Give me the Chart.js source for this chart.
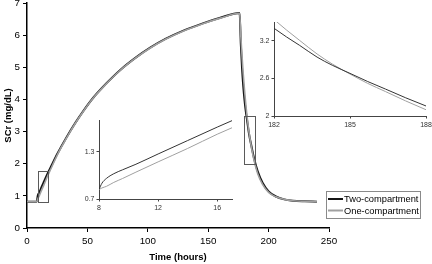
<!DOCTYPE html>
<html>
<head>
<meta charset="utf-8">
<script src="https://cdn.jsdelivr.net/npm/chart.js@4.4.0/dist/chart.umd.min.js"></script>
<style>
body { margin: 0; background: #fff; }
#wrap { position: relative; width: 432px; height: 264px; }
canvas { position: absolute; }
</style>
</head>
<body>
<div id="wrap">
  <canvas id="main" width="432" height="264" style="left:0;top:0"></canvas>
  <canvas id="insetA" width="160" height="100" style="left:80px;top:115px"></canvas>
  <canvas id="insetB" width="182" height="122" style="left:250px;top:12px"></canvas>
</div>
<script>
// series labels
var seriesNames = ['Two-compartment', 'One-compartment'];

// main plot: time (hours) and SCr (mg/dL)
var timeMain = [0, 8, 9, 10, 12, 14, 17, 20, 25, 33, 40, 47, 55, 66, 77, 90, 102, 115, 130, 145, 160, 176,
                177, 178, 179, 180, 181, 182, 183, 184, 185, 186, 188, 191, 195, 200, 206, 213, 220, 230, 240];
var twoComp = [0.82, 0.82, 1.02, 1.09, 1.27, 1.44, 1.69, 1.92, 2.30, 2.84, 3.27, 3.66, 4.06, 4.51, 4.91, 5.30, 5.61, 5.89, 6.15, 6.36, 6.54, 6.69,
               5.72, 4.98, 4.42, 4.00, 3.67, 3.40, 3.13, 2.88, 2.69, 2.51, 2.16, 1.76, 1.41, 1.14, 0.98, 0.89, 0.85, 0.83, 0.82];
var oneComp = [0.82, 0.82, 0.91, 0.99, 1.17, 1.34, 1.61, 1.86, 2.27, 2.82, 3.26, 3.65, 4.05, 4.50, 4.90, 5.29, 5.60, 5.88, 6.14, 6.35, 6.53, 6.68,
               5.97, 5.35, 4.80, 4.32, 3.90, 3.53, 3.21, 2.93, 2.69, 2.47, 2.10, 1.69, 1.36, 1.11, 0.97, 0.89, 0.85, 0.83, 0.82];
var xTicksMain = [0, 50, 100, 150, 200, 250];
var yTicksMain = [0, 1, 2, 3, 4, 5, 6, 7];

// zoomed windows marked on the main plot [xmin, xmax, ymin, ymax]
var zoomBoxA = [9.3, 17.2, 0.82, 1.78];
var zoomBoxB = [180, 189, 2, 3.5];

// inset A (start of infusion)
var timeA = [8, 8.2, 8.5, 9, 9.6, 10.5, 12, 14, 16, 17.1];
var twoA = [0.82, 0.90, 0.96, 1.02, 1.07, 1.14, 1.27, 1.44, 1.61, 1.70];
var oneA = [0.82, 0.84, 0.86, 0.91, 0.96, 1.04, 1.17, 1.34, 1.52, 1.61];
var xTicksA = [8, 12, 16];
var yTicksA = [0.7, 1.3];

// inset B (after infusion stop)
var timeB = [182, 182.5, 183, 183.7, 184.3, 185, 185.7, 186.4, 187.2, 188];
var twoB = [3.40, 3.26, 3.13, 2.94, 2.81, 2.68, 2.55, 2.43, 2.29, 2.16];
var oneB = [3.54, 3.37, 3.21, 2.99, 2.83, 2.67, 2.52, 2.39, 2.24, 2.10];
var xTicksB = [182, 185, 188];
var yTicksB = [2, 2.6, 3.2];

var FONT = "'Liberation Sans', Arial, Helvetica, sans-serif";
var DARK = '#151515';
var GREY = '#a0a0a0';

function pts(xs, ys) {
    return xs.map(function(x, i) { return {x: x, y: ys[i]}; });
}

function fixedTicks(list) {
    return function(scale) {
        scale.ticks = list.map(function(v) { return {value: v}; });
    };
}

// draws the rectangles that mark the zoomed windows
var boxPlugin = {
    id: 'zoomBoxes',
    afterDatasetsDraw: function(chart) {
        var c = chart.ctx, xs = chart.scales.x, ys = chart.scales.y;
        c.save();
        c.strokeStyle = '#5a5a5a';
        c.lineWidth = 1;
        [zoomBoxA, zoomBoxB].forEach(function(b) {
            var x1 = xs.getPixelForValue(b[0]), x2 = xs.getPixelForValue(b[1]);
            var y1 = ys.getPixelForValue(b[3]), y2 = ys.getPixelForValue(b[2]);
            c.strokeRect(Math.round(x1) + 0.5, Math.round(y1) + 0.5, Math.round(x2 - x1), Math.round(y2 - y1));
        });
        c.restore();
    }
};

// boxed legend in the lower right
var legendPlugin = {
    id: 'boxLegend',
    afterDraw: function(chart) {
        var c = chart.ctx;
        var ds = chart.data.datasets;
        c.save();
        c.fillStyle = '#fff';
        c.fillRect(326, 191, 95, 28);
        c.strokeStyle = '#8a8a8a';
        c.lineWidth = 1;
        c.strokeRect(326.5, 191.5, 94, 27);
        c.font = '9.3px ' + FONT;
        c.textBaseline = 'middle';
        ds.forEach(function(d, i) {
            var y = 199 + i * 11.5;
            c.strokeStyle = d.borderColor;
            c.lineWidth = 2;
            c.beginPath();
            c.moveTo(328, y);
            c.lineTo(343, y);
            c.stroke();
            c.fillStyle = '#000';
            c.fillText(d.label, 344, y + 0.5);
        });
        c.restore();
    }
};

new Chart(document.getElementById('main'), {
    type: 'line',
    data: {
        datasets: [
            {label: seriesNames[0], data: pts(timeMain, twoComp), borderColor: DARK, borderWidth: 2, order: 2},
            {label: seriesNames[1], data: pts(timeMain, oneComp), borderColor: GREY, borderWidth: 1.6, order: 1}
        ]
    },
    options: {
        responsive: false,
        animation: false,
        devicePixelRatio: 1,
        elements: {point: {radius: 0}, line: {cubicInterpolationMode: 'monotone', fill: false}},
        layout: {padding: {left: 0, top: 3, right: 103, bottom: 0}},
        plugins: {legend: {display: false}, tooltip: {enabled: false}},
        scales: {
            x: {
                type: 'linear', min: 0, max: 250,
                afterBuildTicks: fixedTicks(xTicksMain),
                afterFit: function(s) { s.height = 36; s.paddingLeft = 0; s.paddingRight = 0; },
                border: {color: '#000', width: 1.5},
                grid: {drawOnChartArea: false, drawTicks: true, tickLength: 4, color: '#000'},
                ticks: {color: '#000', padding: 3, maxRotation: 0, font: {family: FONT, size: 9.8}},
                title: {display: true, text: 'Time (hours)', color: '#000', padding: {bottom: 1},
                        font: {family: FONT, size: 9.5, weight: 'bold'}}
            },
            y: {
                type: 'linear', min: 0, max: 7,
                afterBuildTicks: fixedTicks(yTicksMain),
                afterFit: function(s) { s.width = 27; s.paddingTop = 0; s.paddingBottom = 0; },
                border: {color: '#000', width: 1.5},
                grid: {drawOnChartArea: false, drawTicks: true, tickLength: 4, color: '#000'},
                ticks: {color: '#000', padding: 3, font: {family: FONT, size: 9.8}},
                title: {display: true, text: 'SCr (mg/dL)', color: '#000', padding: {top: 3},
                        font: {family: FONT, size: 9.5, weight: 'bold'}}
            }
        }
    },
    plugins: [boxPlugin, legendPlugin]
});

function makeInset(id, t, two, one, xr, yr, xt, yt, pad, yWidth, xHeight) {
    var tickFont = {family: FONT, size: 7};
    return new Chart(document.getElementById(id), {
        type: 'line',
        data: {
            datasets: [
                {label: seriesNames[0], data: pts(t, two), borderColor: '#333', borderWidth: 1},
                {label: seriesNames[1], data: pts(t, one), borderColor: GREY, borderWidth: 1}
            ]
        },
        options: {
            responsive: false,
            animation: false,
            devicePixelRatio: 1,
            elements: {point: {radius: 0}, line: {cubicInterpolationMode: 'monotone', fill: false}},
            layout: {padding: pad},
            plugins: {legend: {display: false}, tooltip: {enabled: false}},
            scales: {
                x: {
                    type: 'linear', min: xr[0], max: xr[1],
                    afterBuildTicks: fixedTicks(xt),
                    afterFit: function(s) { s.height = xHeight; s.paddingLeft = 0; s.paddingRight = 0; },
                    border: {color: '#444', width: 1},
                    grid: {drawOnChartArea: false, tickLength: 2.5, color: '#444'},
                    ticks: {color: '#333', padding: 2, maxRotation: 0, font: tickFont,
                            callback: function(v) { return String(v); }}
                },
                y: {
                    type: 'linear', min: yr[0], max: yr[1],
                    afterBuildTicks: fixedTicks(yt),
                    afterFit: function(s) { s.width = yWidth; s.paddingTop = 0; s.paddingBottom = 0; },
                    border: {color: '#444', width: 1},
                    grid: {drawOnChartArea: false, tickLength: 2.5, color: '#444'},
                    ticks: {color: '#333', padding: 2, font: tickFont,
                            callback: function(v) { return String(v); }}
                }
            }
        }
    });
}

makeInset('insetA', timeA, twoA, oneA, [8, 17], [0.7, 1.7], xTicksA, yTicksA,
          {left: 0, top: 5, right: 8, bottom: 0}, 19, 16);
makeInset('insetB', timeB, twoB, oneB, [182, 188], [2, 3.5], xTicksB, yTicksB,
          {left: 0, top: 10, right: 6, bottom: 0}, 24, 18);
</script>
</body>
</html>
